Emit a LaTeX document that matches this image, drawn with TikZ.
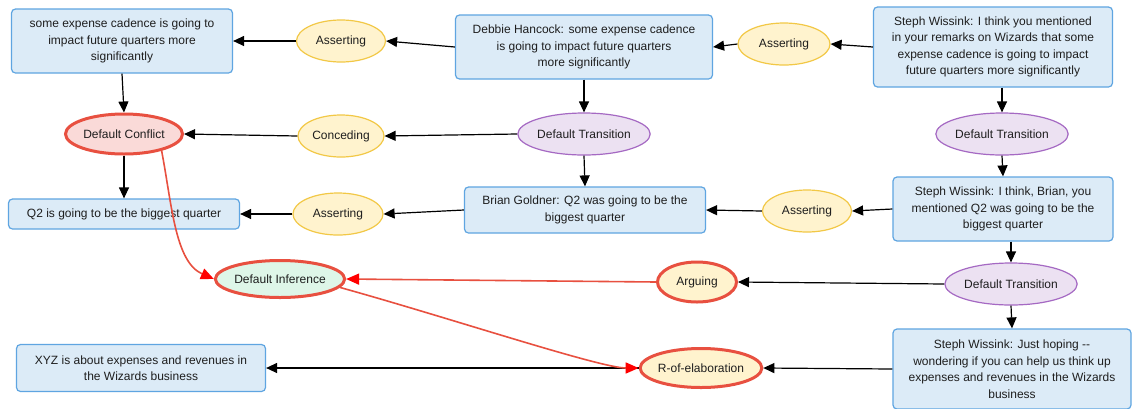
\documentclass[tikz,border=0pt]{standalone}
\usepackage{fontspec}
\setmainfont{Liberation Sans}
\usetikzlibrary{shapes.geometric,arrows.meta}

\definecolor{boxfill}{RGB}{220,235,247}
\definecolor{boxline}{RGB}{95,165,225}
\definecolor{yelfill}{RGB}{255,243,206}
\definecolor{yelline}{RGB}{242,200,70}
\definecolor{purfill}{RGB}{236,225,242}
\definecolor{purline}{RGB}{165,105,195}
\definecolor{pinkfill}{RGB}{250,218,216}
\definecolor{greenfill}{RGB}{222,246,232}
\definecolor{redline}{RGB}{232,80,64}
\definecolor{txt}{RGB}{30,30,30}

\begin{document}
\begin{tikzpicture}[x=1pt,y=-1pt,
  every node/.style={font=\fontsize{12}{16.5}\selectfont, text=txt, align=center, inner sep=0pt},
  stmt/.style={draw=boxline, fill=boxfill, line width=1.2pt, rounded corners=4pt},
  sch/.style={ellipse, line width=1.2pt, inner sep=0pt},
  yel/.style={sch, draw=yelline, fill=yelfill},
  pur/.style={sch, draw=purline, fill=purfill},
  hot/.style={sch, draw=redline, line width=3pt},
  link/.style={draw=black, line width=1.2pt, -{Triangle[length=11pt,width=10pt]}},
  redlink/.style={draw=redline, line width=1.6pt, -{Triangle[length=13pt,width=11pt,color=red]}},
]
\clip (0,0) rectangle (1133,408);
\fill[white] (0,0) rectangle (1133,408);

% statements
\node[stmt, minimum width=221pt, minimum height=64pt] (A) at (122,41)
  {some expense cadence is going to\\impact future quarters more\\significantly};
\node[stmt, minimum width=257pt, minimum height=64pt] (B) at (584,47)
  {Debbie Hancock: some expense cadence\\is going to impact future quarters\\more significantly};
\node[stmt, minimum width=239pt, minimum height=80pt] (C) at (993,47)
  {Steph Wissink: I think you mentioned\\in your remarks on Wizards that some\\expense cadence is going to impact\\future quarters more significantly};
\node[stmt, minimum width=231pt, minimum height=30pt] (D) at (124,214)
  {Q2 is going to be the biggest quarter};
\node[stmt, minimum width=241pt, minimum height=46pt] (E) at (585,210)
  {Brian Goldner: Q2 was going to be the\\biggest quarter};
\node[stmt, minimum width=220pt, minimum height=64pt] (F) at (1003,209)
  {Steph Wissink: I think, Brian, you\\mentioned Q2 was going to be the\\biggest quarter};
\node[stmt, minimum width=249pt, minimum height=47pt] (G) at (141,368)
  {XYZ is about expenses and revenues in\\the Wizards business};
\node[stmt, minimum width=238pt, minimum height=80pt] (H) at (1012,369)
  {Steph Wissink: Just hoping -{}-\\wondering if you can help us think up\\expenses and revenues in the Wizards\\business};

% schemes
\node[yel, minimum width=89pt, minimum height=42pt] (Ass1) at (341,41) {Asserting};
\node[yel, minimum width=92pt, minimum height=42pt] (Ass2) at (784,44) {Asserting};
\node[yel, minimum width=86pt, minimum height=42pt] (Conc) at (341,136) {Conceding};
\node[yel, minimum width=90pt, minimum height=42pt] (Ass3) at (338,214) {Asserting};
\node[yel, minimum width=89pt, minimum height=42pt] (Ass4) at (807,211) {Asserting};
\node[pur, minimum width=131pt, minimum height=42pt] (DT1) at (584,134) {Default Transition};
\node[pur, minimum width=131pt, minimum height=42pt] (DT2) at (1002,134) {Default Transition};
\node[pur, minimum width=131pt, minimum height=42pt] (DT3) at (1011,284) {Default Transition};
\node[hot, fill=pinkfill, minimum width=117pt, minimum height=40pt] (DC) at (124,134) {Default Conflict};
\node[hot, fill=greenfill, minimum width=124pt, minimum height=37pt] (DI) at (280,279) {Default Inference};
\node[hot, fill=yelfill, minimum width=79pt, minimum height=40pt] (Arg) at (697,282) {Arguing};
\node[hot, fill=yelfill, minimum width=121pt, minimum height=39pt] (R) at (701,368) {R-of-elaboration};

% connectors
\draw[link] (Ass1.west) -- (A.east);
\draw[link] (B.west) -- (Ass1.east);
\draw[link] (Ass2.west) -- (B.east);
\draw[link] (C.west) -- (Ass2.east);
\draw[link] (A.south) -- (DC.north);
\draw[link] (B.south) -- (DT1.north);
\draw[link] (C.south -| DT2.north) -- (DT2.north);
\draw[link] (Conc.west) -- (DC.east);
\draw[link] (DT1.west) -- (Conc.east);
\draw[link] (DC.south) -- (D.north);
\draw[link] (DT2.south) -- (F.north);
\draw[link] (DT1.south) -- (E.north);
\draw[link] (Ass3.west) -- (D.east);
\draw[link] (E.west) -- (Ass3.east);
\draw[link] (Ass4.west) -- (E.east);
\draw[link] (F.west) -- (Ass4.east);
\draw[link] (F.south -| DT3.north) -- (DT3.north);
\draw[link] (DT3.south) -- (H.north);
\draw[link] (DT3.west) -- (Arg.east);
\draw[link] (H.west) -- (R.east);
\draw[link] (R.west) -- (G.east);

\draw[redlink] (Arg.west) -- (DI.east);
\draw[redlink] (DC.-24) .. controls (172,205) and (175,262) .. (DI.west);
\draw[redlink] (DI.-8) .. controls (450,318) and (600,368) .. (R.west);
\end{tikzpicture}
\end{document}
